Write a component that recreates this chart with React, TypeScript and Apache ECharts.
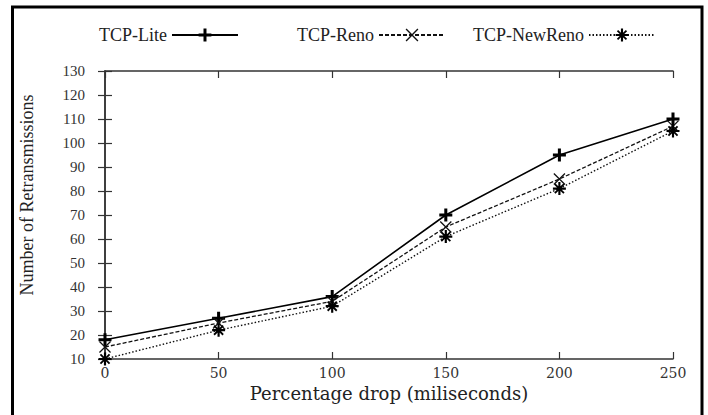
import React, { useEffect, useRef } from "react";
import * as echarts from "echarts";

const xValues = [0, 50, 100, 150, 200, 250];
const tcpLite = [18, 27, 36, 70, 95, 110];
const tcpReno = [15, 25, 34, 65, 85, 107];
const tcpNewReno = [10, 22, 32, 61, 81, 105];
const seriesNames = ["TCP-Lite", "TCP-Reno", "TCP-NewReno"];
const xTitle = "Percentage drop (miliseconds)";
const yTitle = "Number of Retransmissions";

const PLUS =
  "path://M-6,1.4 L6,1.4 L6,-1.4 L-6,-1.4 Z M-1.4,-6 L-1.4,6 L1.4,6 L1.4,-6 Z";
const CROSS =
  "path://M3.9,4.6 L4.6,3.9 L-3.9,-4.6 L-4.6,-3.9 Z M4.6,-3.9 L3.9,-4.6 L-4.6,3.9 L-3.9,4.6 Z";
const STAR =
  "path://M-6,1 L6,1 L6,-1 L-6,-1 Z M-1,-6 L-1,6 L1,6 L1,-6 Z M3.6,4.8 L4.8,3.6 L-3.6,-4.8 L-4.8,-3.6 Z M4.8,-3.6 L3.6,-4.8 L-4.8,3.6 L-3.6,4.8 Z";

const pair = (ys: number[]) => xValues.map((x, i) => [x, ys[i]]);

export default function App() {
  const ref = useRef<HTMLDivElement>(null);
  useEffect(() => {
    if (!ref.current) return;
    const chart = echarts.init(ref.current, null, { renderer: "svg" });
    const axisLine = { show: true, lineStyle: { color: "#333", width: 1.5 } };
    const axisTick = { show: true, inside: true, length: 7, lineStyle: { color: "#333", width: 1.2 } };
    const legendBase = {
      orient: "horizontal",
      align: "right",
      top: 26,
      padding: 0,
      itemWidth: 66,
      itemHeight: 16,
      itemGap: 5,
      textStyle: { fontFamily: "Liberation Serif", fontSize: 18, color: "#222" },
    };
    chart.setOption({
      animation: false,
      backgroundColor: "#fff",
      legend: [
        { ...legendBase, left: 99, data: [seriesNames[0]] },
        { ...legendBase, left: 297, data: [seriesNames[1]] },
        { ...legendBase, left: 473, data: [seriesNames[2]] },
      ],
      grid: { left: 105, right: 35, top: 71, bottom: 56, outerBoundsMode: "none", containLabel: false },
      xAxis: [
        {
          type: "value",
          position: "bottom",
          min: 0,
          max: 250,
          interval: 50,
          axisLine,
          axisTick,
          splitLine: { show: false },
          axisLabel: { margin: 7, fontFamily: "DejaVu Serif", fontSize: 14, color: "#333" },
          name: xTitle,
          nameLocation: "middle",
          nameGap: 22,
          nameTextStyle: { fontFamily: "DejaVu Serif", fontSize: 18, color: "#222", verticalAlign: "top" },
        },
        {
          type: "value",
          position: "top",
          min: 0,
          max: 250,
          interval: 50,
          axisLine,
          axisTick,
          splitLine: { show: false },
          axisLabel: { show: false },
        },
      ],
      yAxis: [
        {
          type: "value",
          position: "left",
          min: 10,
          max: 130,
          interval: 10,
          axisLine,
          axisTick,
          splitLine: { show: false },
          axisLabel: { margin: 20, fontFamily: "Liberation Serif", fontSize: 15, color: "#333" },
        },
        {
          type: "value",
          position: "right",
          min: 10,
          max: 130,
          interval: 10,
          axisLine,
          axisTick,
          splitLine: { show: false },
          axisLabel: { show: false },
        },
      ],
      graphic: [
        {
          type: "rect",
          shape: { x: 12.5, y: 7, width: 689.5, height: 430 },
          style: { fill: "none", stroke: "#000", lineWidth: 3 },
          silent: true,
        },
        {
          type: "text",
          x: 27,
          y: 195,
          rotation: Math.PI / 2,
          style: {
            text: yTitle,
            fontFamily: "Liberation Serif",
            fontSize: 18,
            fill: "#222",
            align: "center",
            verticalAlign: "middle",
          },
        },
      ],
      series: [
        {
          name: seriesNames[0],
          type: "line",
          data: pair(tcpLite),
          symbol: PLUS,
          symbolSize: 13,
          showAllSymbol: true,
          lineStyle: { color: "#000", width: 1.6, type: "solid" },
          itemStyle: { color: "#000" },
          z: 3,
        },
        {
          name: seriesNames[1],
          type: "line",
          data: pair(tcpReno),
          symbol: CROSS,
          symbolSize: 12,
          lineStyle: { color: "#111", width: 1.3, type: [4, 2] },
          itemStyle: { color: "#111" },
        },
        {
          name: seriesNames[2],
          type: "line",
          data: pair(tcpNewReno),
          symbol: STAR,
          symbolSize: 13,
          lineStyle: { color: "#111", width: 1.4, type: [1.5, 2] },
          itemStyle: { color: "#000" },
        },
      ],
    });
    return () => chart.dispose();
  }, []);
  return (
    <div
      ref={ref}
      style={{ position: "fixed", left: 0, top: 0, width: 708, height: 415 }}
    />
  );
}
